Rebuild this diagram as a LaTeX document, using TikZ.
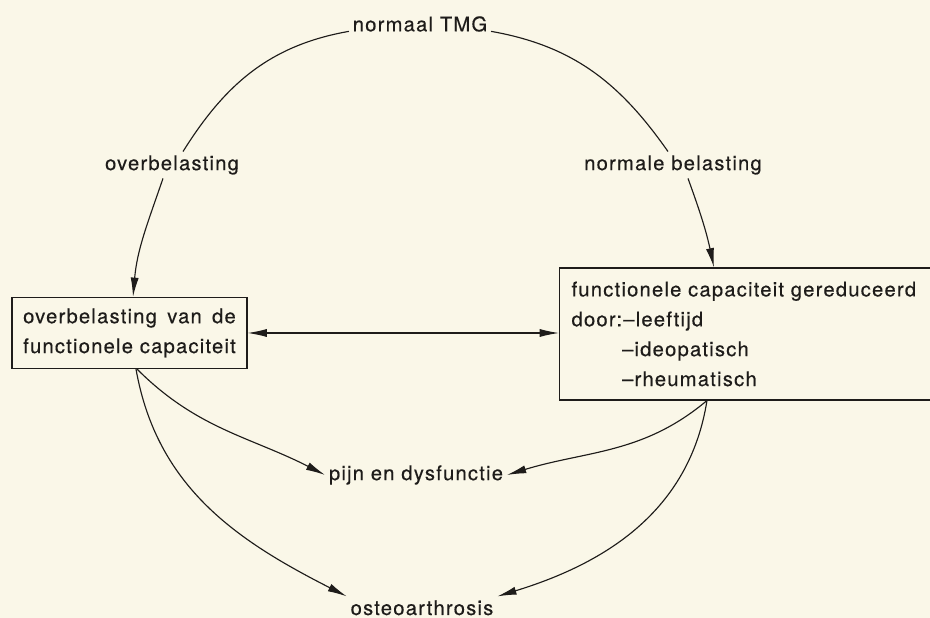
\documentclass[tikz,border=0pt]{standalone}
\usepackage{fontspec}
\usepackage{calc}
\setmainfont{TeX Gyre Heros}[LetterSpace=6, FakeBold=0.4]
\usetikzlibrary{arrows.meta}
\definecolor{paper}{RGB}{250,247,232}
\definecolor{ink}{RGB}{30,28,26}

\begin{document}
\begin{tikzpicture}[x=0.02cm, y=0.02cm,
  every node/.style={font=\fontsize{11.5}{17}\selectfont, text=ink},
  tag/.style={inner sep=2pt},
  box/.style={draw=ink, line width=0.65pt},
  line/.style={draw=ink, line width=0.65pt},
  link/.style={line, -{Latex[length=11pt,width=4.6pt]}},
  both/.style={line, {Latex[length=11pt,width=4.6pt]}-{Latex[length=11pt,width=4.6pt]}}]
 \fill[paper] (0,0) rectangle (930,618);
 \useasboundingbox (0,0) rectangle (930,618);
 \clip (0,0) rectangle (930,618);
 % labels on the circle
 \node[tag] (tmg) at (420,594) {normaal TMG};
 \node[tag] (over) at (172,453) {overbelasting};
 \node[tag] (norm) at (673,453) {normale belasting};
 \node[tag] (pijn) at (416,143) {pijn en dysfunctie};
 \node[tag, anchor=base] (osteo) at (422,3) {osteoarthrosis};
 % the two boxes
 \node[box, minimum width=4.7cm, minimum height=1.42cm, align=center] (lbox) at (129.5,285)
   {\makebox[\widthof{functionele capaciteit}][s]{overbelasting van de}\\functionele capaciteit};
 \node[box, anchor=west, text width=7.52cm, inner xsep=0.24cm, minimum height=2.64cm, align=left] (rbox) at (559,284)
   {functionele capaciteit gereduceerd\\door:–leeftijd\\\phantom{door:}–ideopatisch\\\phantom{door:}–rheumatisch};
 % connectors
 \draw[line] (tmg.base west) to[out=190,in=58] ([xshift=0.22cm]over.north);
 \draw[link] ([xshift=-0.18cm]over.south) to[out=251,in=85] ([xshift=0.07cm]lbox.north);
 \draw[line] (tmg.base east) to[out=-10,in=125] ([xshift=-0.1cm]norm.north);
 \draw[link] ([xshift=0.3cm]norm.south) to[out=-70,in=102] ([xshift=3.1cm]rbox.north west);
 \draw[both] (lbox.east) -- (lbox.east -| rbox.west);
 \draw[link] ([xshift=0.15cm]lbox.south) to[out=-45,in=153] (pijn.west);
 \draw[link] ([xshift=0.13cm]lbox.south) to[out=-80,in=153] (osteo.north west);
 \draw[link] ([xshift=2.96cm]rbox.south west) to[out=-140,in=17] (pijn.east);
 \draw[link] ([xshift=2.96cm]rbox.south west) to[out=-99,in=17] (osteo.north east);
\end{tikzpicture}
\end{document}
